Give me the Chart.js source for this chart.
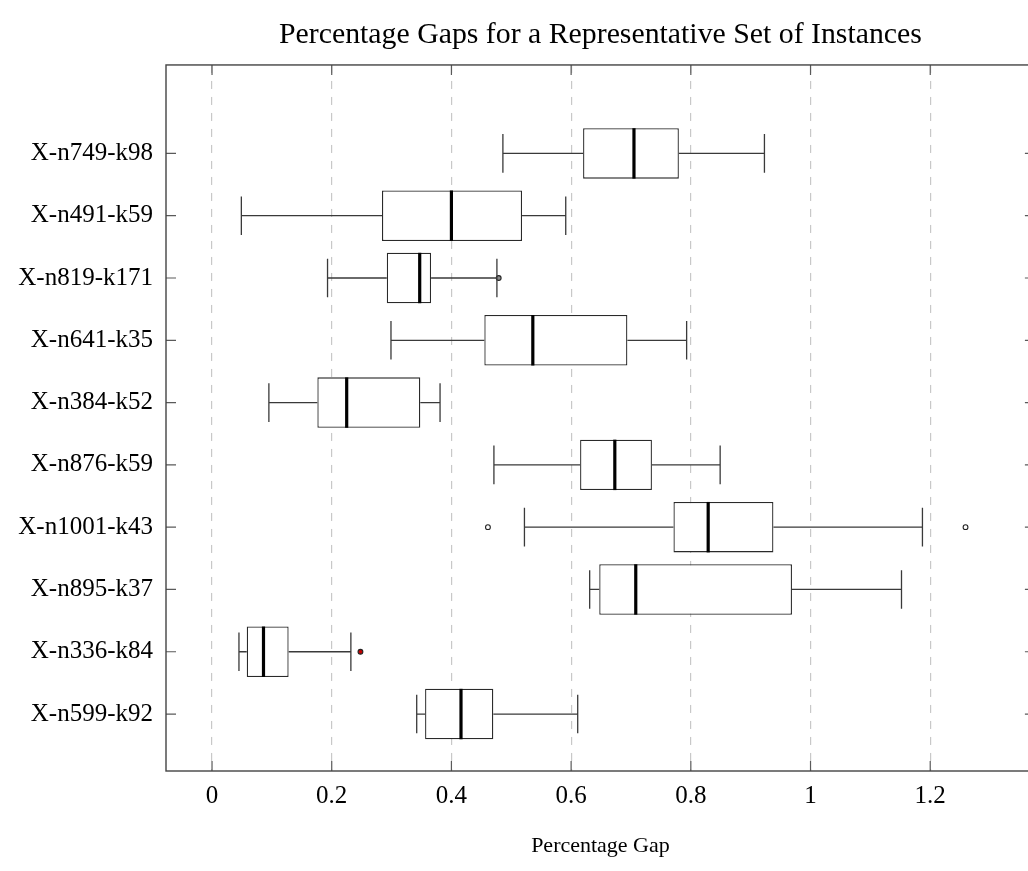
<!DOCTYPE html>
<html>
<head>
<meta charset="utf-8">
<title>Percentage Gaps</title>
<script src="https://cdn.jsdelivr.net/npm/chart.js@4.4.1/dist/chart.umd.min.js"></script>
<style>
  html, body { margin: 0; padding: 0; background: #fff; overflow: hidden; }
  #wrap { width: 1040px; height: 871px; }
</style>
</head>
<body>
<div id="wrap"><canvas id="gapChart" width="1040" height="871"></canvas></div>
<script>
(function () {
  "use strict";

  // instances, listed from the top row down
  var instances = ["X-n749-k98", "X-n491-k59", "X-n819-k171", "X-n641-k35", "X-n384-k52",
                   "X-n876-k59", "X-n1001-k43", "X-n895-k37", "X-n336-k84", "X-n599-k92"];
  var whiskerLow  = [0.486, 0.049, 0.193, 0.299, 0.095, 0.471, 0.522, 0.631, 0.045, 0.342];
  var q1          = [0.620, 0.284, 0.292, 0.455, 0.176, 0.615, 0.771, 0.647, 0.058, 0.356];
  var median      = [0.705, 0.400, 0.347, 0.536, 0.225, 0.673, 0.829, 0.708, 0.086, 0.416];
  var q3          = [0.780, 0.518, 0.366, 0.694, 0.348, 0.735, 0.938, 0.969, 0.128, 0.470];
  var whiskerHigh = [0.923, 0.591, 0.476, 0.793, 0.381, 0.849, 1.187, 1.152, 0.232, 0.611];

  var outlierInstances = ["X-n819-k171", "X-n1001-k43", "X-n1001-k43", "X-n336-k84"];
  var outlierValues = [0.479, 0.461, 1.259, 0.248];
  var outlierColors = ["#8c8c8c", "#ffffff", "#ffffff", "#c40000"];

  var gapTicks = [0, 0.2, 0.4, 0.6, 0.8, 1, 1.2];

  // first instance sits on the highest row
  function rowOf(i) { return instances.length - i; }
  function rowOfName(name) { return rowOf(instances.indexOf(name)); }

  var boxes = instances.map(function (name, i) {
    return { x: [q1[i], q3[i]], y: rowOf(i) };
  });
  var outliers = outlierValues.map(function (v, i) {
    return { x: v, y: rowOfName(outlierInstances[i]) };
  });
  var rows = instances.map(function (name, i) { return rowOf(i); });

  var BOX_HALF = 0.405, CAP_HALF = 0.31;
  var serif = "'Liberation Serif', 'Times New Roman', serif";

  // whiskers, caps and medians, drawn right after the boxes
  var boxLines = {
    id: "boxLines",
    afterDatasetDraw: function (chart, args) {
      if (args.index !== 0) return;
      var ctx = chart.ctx, xs = chart.scales.x, ys = chart.scales.y;
      ctx.save();
      instances.forEach(function (name, i) {
        var p = rowOf(i);
        var yc = ys.getPixelForValue(p);
        var cTop = ys.getPixelForValue(p + CAP_HALF), cBot = ys.getPixelForValue(p - CAP_HALF);
        var bTop = ys.getPixelForValue(p + BOX_HALF), bBot = ys.getPixelForValue(p - BOX_HALF);
        var lo = xs.getPixelForValue(whiskerLow[i]), hi = xs.getPixelForValue(whiskerHigh[i]);
        var a = xs.getPixelForValue(q1[i]), b = xs.getPixelForValue(q3[i]);
        var m = xs.getPixelForValue(median[i]);

        ctx.strokeStyle = "#3a3a3a";
        ctx.lineWidth = 1.3;
        ctx.beginPath();
        ctx.moveTo(lo, yc); ctx.lineTo(a, yc);
        ctx.moveTo(b, yc); ctx.lineTo(hi, yc);
        ctx.moveTo(lo, cTop); ctx.lineTo(lo, cBot);
        ctx.moveTo(hi, cTop); ctx.lineTo(hi, cBot);
        ctx.stroke();

        ctx.strokeStyle = "#000";
        ctx.lineWidth = 3.2;
        ctx.beginPath();
        ctx.moveTo(m, bTop); ctx.lineTo(m, bBot);
        ctx.stroke();
      });
      ctx.restore();
    }
  };

  // closed frame with ticks pointing inwards on all four sides
  var axisFrame = {
    id: "axisFrame",
    afterDraw: function (chart) {
      var ctx = chart.ctx, a = chart.chartArea, xs = chart.scales.x, ys = chart.scales.y;
      var len = 10;
      ctx.save();
      ctx.strokeStyle = "#5a5a5a";
      ctx.lineWidth = 1.2;
      ctx.beginPath();
      xs.ticks.forEach(function (t) {
        var x = xs.getPixelForValue(t.value);
        ctx.moveTo(x, a.bottom); ctx.lineTo(x, a.bottom - len);
        ctx.moveTo(x, a.top); ctx.lineTo(x, a.top + len);
      });
      ys.ticks.forEach(function (t) {
        var y = ys.getPixelForValue(t.value);
        ctx.moveTo(a.left, y); ctx.lineTo(a.left + len, y);
        ctx.moveTo(a.right, y); ctx.lineTo(a.right - len, y);
      });
      ctx.stroke();
      ctx.strokeStyle = "#444";
      ctx.lineWidth = 1.4;
      ctx.strokeRect(a.left, a.top, a.right - a.left, a.bottom - a.top);
      ctx.restore();
    }
  };

  new Chart(document.getElementById("gapChart"), {
    type: "bar",
    data: {
      datasets: [
        {
          type: "bar",
          indexAxis: "y",
          data: boxes,
          backgroundColor: "#ffffff",
          borderColor: "#2a2a2a",
          borderWidth: 1.3,
          borderSkipped: false,
          barPercentage: BOX_HALF * 2,
          categoryPercentage: 1
        },
        {
          type: "scatter",
          indexAxis: "x",
          data: outliers,
          pointRadius: 2.4,
          pointBorderWidth: 1.1,
          pointBackgroundColor: outlierColors,
          pointBorderColor: "#222"
        }
      ]
    },
    options: {
      indexAxis: "y",
      responsive: false,
      animation: false,
      layout: { padding: { left: 0, right: 2, top: 0, bottom: 0 } },
      plugins: {
        legend: { display: false },
        tooltip: { enabled: false },
        title: {
          display: true,
          fullSize: false,
          text: "Percentage Gaps for a Representative Set of Instances",
          color: "#000",
          font: { family: serif, size: 29.8, weight: "normal" },
          padding: { top: 17.5, bottom: 11.7 }
        }
      },
      scales: {
        x: {
          type: "linear",
          position: "bottom",
          min: -0.0769,
          max: 1.3749,
          afterBuildTicks: function (scale) {
            scale.ticks = gapTicks.map(function (v) { return { value: v }; });
          },
          afterFit: function (scale) { scale.height = 100; },
          grid: { color: "#c8c8c8", lineWidth: 1.2, drawTicks: false },
          border: { display: false, dash: [8, 8] },
          ticks: {
            padding: 10,
            color: "#000",
            font: { family: serif, size: 25 },
            callback: function (v) { return String(v); }
          },
          title: {
            display: true,
            text: "Percentage Gap",
            color: "#000",
            font: { family: serif, size: 22 },
            padding: { top: 0, bottom: 11.5 }
          }
        },
        y: {
          type: "linear",
          offset: false,
          min: 0.0856,
          max: 11.42,
          afterBuildTicks: function (scale) {
            scale.ticks = rows.map(function (v) { return { value: v }; });
          },
          afterFit: function (scale) { scale.width = 166; },
          grid: { display: false, drawTicks: false, offset: false },
          border: { display: false },
          ticks: {
            padding: 13,
            color: "#000",
            font: { family: serif, size: 25 },
            callback: function (v) { return instances[instances.length - v]; }
          }
        }
      }
    },
    plugins: [boxLines, axisFrame]
  });
})();
</script>
</body>
</html>
